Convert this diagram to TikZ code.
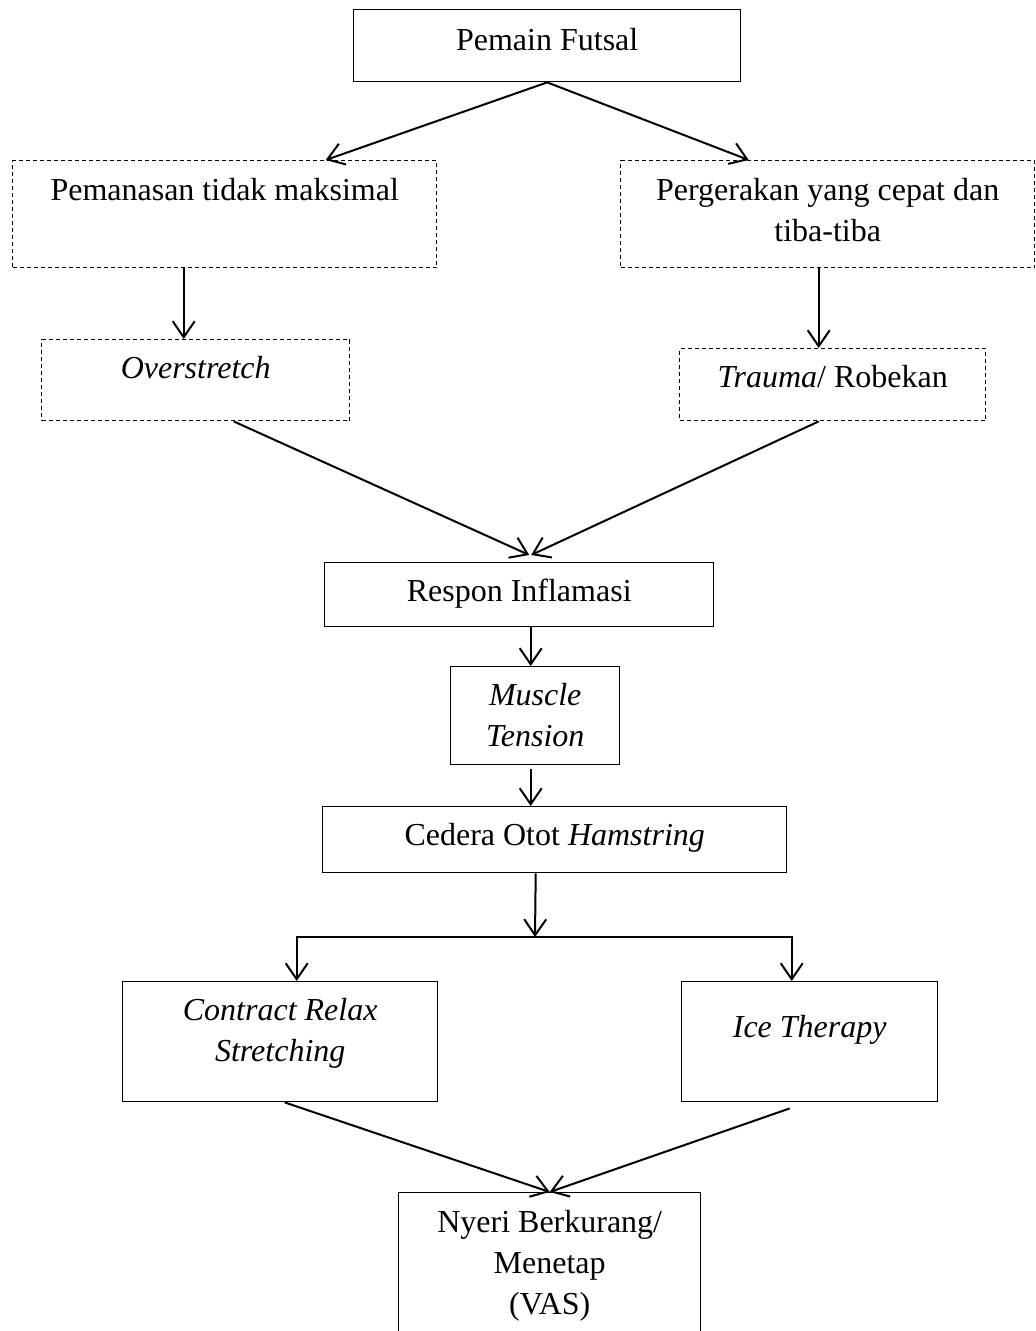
\documentclass[tikz,border=0pt]{standalone}
\usepackage{fontspec}
\setmainfont{Liberation Serif}
\usepackage{tikz}
\usetikzlibrary{arrows.meta, positioning, calc}

\begin{document}
\begin{tikzpicture}[x=0.5pt, y=-0.5pt, >={Straight Barb[length=8pt, width=11pt]},
    box/.style={draw, line width=0.7pt, inner sep=0pt, align=center, anchor=north west,
        font=\fontsize{16}{20.5}\selectfont},
    dbox/.style={box, dash pattern=on 2pt off 1.5pt},
    link/.style={->, line width=1pt}]

\useasboundingbox (0,0) rectangle (1035,1331);
\clip (0,0) rectangle (1035,1331);

% Top box
\node[box, minimum width=193.5pt, text height=20.5pt, text depth=15.5pt] (futsal) at (353,9) {Pemain Futsal};

% Causes (dashed)
\node[dbox, minimum width=212pt, text height=20pt, text depth=33.5pt] (warm) at (12,160) {Pemanasan tidak maksimal};
\node[dbox, minimum width=207pt, text height=40.5pt, text depth=13pt] (move) at (620,160) {Pergerakan yang cepat dan\\tiba-tiba};
\node[dbox, minimum width=154pt, text height=19.5pt, text depth=21pt] (over) at (41,339) {\textit{Overstretch}};
\node[dbox, minimum width=153pt, text height=19.5pt, text depth=16.5pt] (trauma) at (679,348) {\textit{Trauma}/ Robekan};

% Middle chain
\node[box, minimum width=194.5pt, text height=19.5pt, text depth=12.5pt] (resp) at (324,562) {Respon Inflamasi};
\node[box, minimum width=84.5pt, text height=40pt, text depth=9pt] (tens) at (450,666) {\textit{Muscle}\\\textit{Tension}};
\node[box, minimum width=232pt, text height=19.5pt, text depth=13.5pt] (ham) at (322,806) {Cedera Otot \textit{Hamstring}};

% Treatments
\node[box, minimum width=157.5pt, text height=40pt, text depth=20pt] (crs) at (122,981) {\textit{Contract Relax}\\\textit{Stretching}};
\node[box, minimum width=128pt, text height=28pt, text depth=32pt] (ice) at (681,981) {\textit{Ice Therapy}};

% Outcome
\node[box, minimum width=151pt, text height=61pt, text depth=19pt] (vas) at (398,1192) {Nyeri Berkurang/\\Menetap\\(VAS)};

\coordinate (split) at (535,937);

% Arrows
\draw[link] (futsal.south) -- ([xshift=50.5pt]warm.north);
\draw[link] (futsal.south) -- ([xshift=-39.5pt]move.north);
\draw[link] ([xshift=-20.5pt]warm.south) -- ([xshift=-20.5pt]warm.south |- over.north);
\draw[link] ([xshift=-4.5pt]move.south) -- ([xshift=-4.5pt]move.south |- trauma.north);
\draw[link] ([xshift=19pt]over.south) -- ([xshift=5pt, yshift=3.5pt]resp.north);
\draw[link] ([xshift=-7pt]trauma.south) -- ([xshift=6pt, yshift=3.5pt]resp.north);
\draw[link] ([xshift=5.75pt]resp.south) -- ([xshift=5.75pt]resp.south |- tens.north);
\draw[link] ([xshift=-2.25pt, yshift=-2pt]tens.south) -- ([xshift=-2.25pt]tens.south |- ham.north);
\draw[link] ([xshift=-9.5pt]ham.south) -- (split);
\draw[link] (split) -| ([xshift=8.25pt]crs.north);
\draw[link] (split) -| ([xshift=-9pt]ice.north);
\draw[link] ([xshift=2.25pt]crs.south) -- (vas.north);
\draw[link] ([xshift=-10pt, yshift=-3pt]ice.south) -- (vas.north);

\end{tikzpicture}
\end{document}
